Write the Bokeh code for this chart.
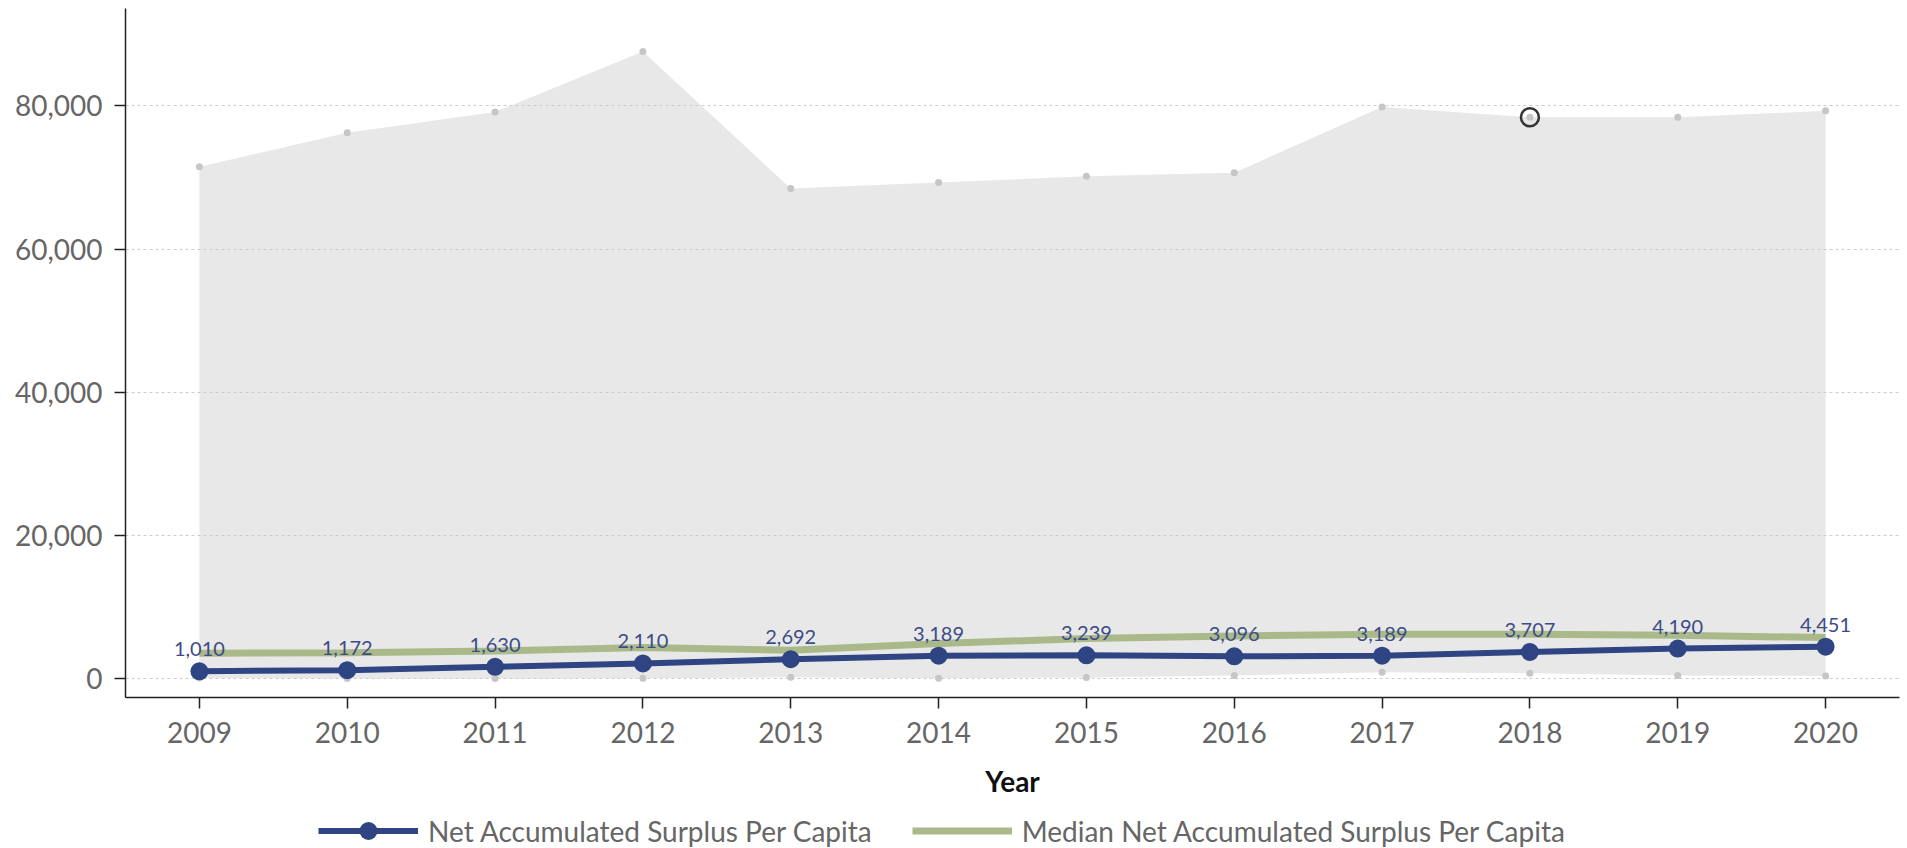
from bokeh.plotting import figure
from bokeh.layouts import column
from bokeh.models import (Range1d, FixedTicker, NumeralTickFormatter, ColumnDataSource,
                          LabelSet, Legend, LegendItem)
from bokeh.core.properties import value
from bokeh.embed import file_html
from bokeh.resources import INLINE

# Per-capita net accumulated surplus, median of peers, and the peer range band
years = list(range(2009, 2021))
net_surplus = [1010, 1172, 1630, 2110, 2692, 3189, 3239, 3096, 3189, 3707, 4190, 4451]
median_surplus = [3530, 3600, 3850, 4320, 3950, 4900, 5580, 5940, 6180, 6180, 6040, 5720]
range_high = [71500, 76250, 79150, 87600, 68450, 69300, 70150, 70650, 79850, 78400, 78400, 79300]
range_low = [90, 0, 0, 40, 180, 40, 140, 420, 880, 740, 420, 360]
y_ticks = [0, 20000, 40000, 60000, 80000]
highlight_year = 2018
series_names = ["Net Accumulated Surplus Per Capita",
                "Median Net Accumulated Surplus Per Capita"]

FONT = "Lato"
BLUE = "#2f4482"
GREEN = "#a9b98a"
W = 1907
MAIN_H = 800

src = ColumnDataSource(dict(
    year=years,
    net=net_surplus,
    median=median_surplus,
    high=range_high,
    low=range_low,
    label=[f"{v:,}" for v in net_surplus],
))

p = figure(width=W, height=MAIN_H, output_backend="svg", toolbar_location=None,
           x_range=Range1d(2008.5, 2020.5), y_range=Range1d(-2650, 93600),
           min_border_left=125, min_border_top=8, min_border_right=8,
           min_border_bottom=MAIN_H - 698)
p.outline_line_color = None
p.background_fill_color = "white"

# peer range band
p.varea(x="year", y1="low", y2="high", source=src, fill_color="#e8e8e8", level="image")
p.scatter(x="year", y="high", source=src, size=7, fill_color="#c6c6c6", line_color=None)
p.scatter(x="year", y="low", source=src, size=7, fill_color="#c6c6c6", line_color=None)

# median and own series
p.line(x="year", y="median", source=src, line_color=GREEN, line_width=7)
p.line(x="year", y="net", source=src, line_color=BLUE, line_width=6)
p.scatter(x="year", y="net", source=src, size=18, fill_color=BLUE, line_color=None)

# highlighted range point
hi_idx = years.index(highlight_year)
p.scatter(x=[highlight_year], y=[range_high[hi_idx]], size=18, fill_color=None,
          line_color="#333333", line_width=2.5)

labels = LabelSet(x="year", y="net", text="label", source=src, text_align="center",
                  text_baseline="alphabetic", y_offset=15, text_font_size="20px",
                  text_color="#3d4c86", text_font=value(FONT))
p.add_layout(labels)

# grid
p.xgrid.visible = False
p.ygrid.ticker = FixedTicker(ticks=y_ticks)
p.ygrid.grid_line_color = "#cccccc"
p.ygrid.grid_line_dash = "3 3"
p.ygrid.level = "underlay"

# axes
p.xaxis.ticker = FixedTicker(ticks=years)
p.xaxis.axis_label = "Year"
p.xaxis.axis_label_text_font = FONT
p.xaxis.axis_label_text_font_style = "bold"
p.xaxis.axis_label_text_font_size = "28px"
p.xaxis.axis_label_text_color = "#111111"
p.xaxis.axis_label_standoff = 18

p.yaxis.ticker = FixedTicker(ticks=y_ticks)
p.yaxis.formatter = NumeralTickFormatter(format="0,0")

for ax in (p.xaxis[0], p.yaxis[0]):
    ax.axis_line_color = "#222222"
    ax.axis_line_width = 1.5
    ax.major_tick_line_color = "#222222"
    ax.major_tick_line_width = 1.5
    ax.major_tick_in = 0
    ax.major_tick_out = 11
    ax.minor_tick_line_color = None
    ax.major_label_text_font = FONT
    ax.major_label_text_font_size = "28px"
    ax.major_label_text_color = "#666666"
p.xaxis.major_label_standoff = 13
p.yaxis.major_label_standoff = 12

# legend strip under the chart (its renderers sit outside the visible range)
lg = figure(width=W, height=848 - MAIN_H, output_backend="svg", toolbar_location=None,
            x_range=Range1d(0, 1), y_range=Range1d(0, 1),
            min_border=0, outline_line_color=None)
lg.axis.visible = False
lg.grid.visible = False
r_net_line = lg.line(x=[-5, -4], y=[-5, -5], line_color=BLUE, line_width=6)
r_net_pts = lg.scatter(x=[-5], y=[-5], size=18, fill_color=BLUE, line_color=None)
r_med_line = lg.line(x=[-5, -4], y=[-5, -5], line_color=GREEN, line_width=7)

legend = Legend(items=[
    LegendItem(label=series_names[0], renderers=[r_net_line, r_net_pts]),
    LegendItem(label=series_names[1], renderers=[r_med_line]),
], orientation="horizontal", location=(193, -5), glyph_width=100, glyph_height=45,
    label_text_font=FONT, label_text_font_size="28px", label_text_color="#666666",
    label_standoff=10, spacing=40, padding=0, margin=0,
    border_line_color=None, background_fill_alpha=0)
lg.add_layout(legend)

open("out.html", "w").write(file_html(column(p, lg, spacing=0), INLINE))
